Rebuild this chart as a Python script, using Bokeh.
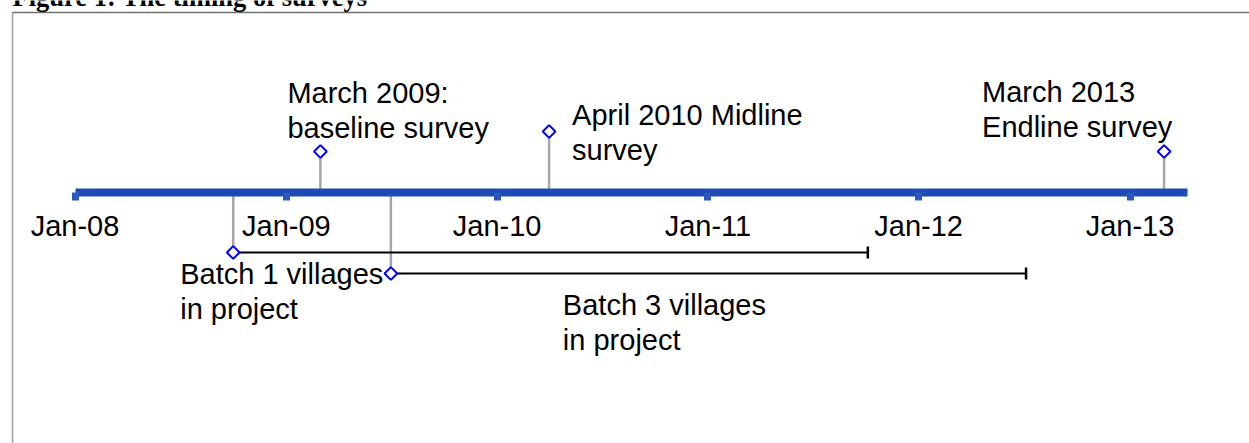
import numpy as np
import pandas as pd
from bokeh.plotting import figure
from bokeh.models import Range1d, LinearAxis, FixedTicker, ColumnDataSource
from bokeh.core.properties import value
from bokeh.embed import file_html
from bokeh.resources import INLINE

# ---------------- data ----------------
title_text = "Figure 1: The timing of surveys"
survey_labels = ["March 2009:\nbaseline survey", "April 2010 Midline\nsurvey", "March 2013\nEndline survey"]
survey_dates = ["2009-03-01", "2010-04-01", "2013-03-01"]
batch_labels = ["Batch 1 villages\nin project", "Batch 3 villages\nin project"]
batch_starts = ["2008-10-01", "2009-07-01"]
batch_ends = ["2011-10-05", "2012-07-05"]
tick_dates = ["2008-01-01", "2009-01-01", "2010-01-01", "2011-01-01", "2012-01-01", "2013-01-01"]
tick_labels = ["Jan-08", "Jan-09", "Jan-10", "Jan-11", "Jan-12", "Jan-13"]
timeline_start = "2008-01-01"
timeline_end = "2013-04-10"

# ---------------- layout / style ----------------
W, H = 1249, 443
DAY = 86400000.0
def ms(d):
    return pd.Timestamp(d).value / 1e6

PX_JAN08 = 74.5
PPD = 1055.0 / 1827.0          # pixels per day
x_start = ms("2008-01-01") - PX_JAN08 / PPD * DAY
x_end = x_start + W / PPD * DAY
def px2x(px):
    return x_start + px / PPD * DAY

AXIS_Y = 192
survey_levels = [151, 131, 151]
survey_label_y = [76, 98, 75]
survey_label_dx = [-33, 23, -182]
batch_levels = [252, 273]
batch_label_y = [257, 288]
batch_label_dx = [-53, 172]

BLUE = "#1c4bb4"
GREY = "#a6a6a6"
FONT = "Liberation Sans"
FS = "29px"

p = figure(width=W, height=H, x_range=Range1d(x_start, x_end), y_range=Range1d(H, 0),
           x_axis_type=None, y_axis_type=None, output_backend="svg",
           toolbar_location=None, min_border=0, outline_line_color=None)
p.xgrid.visible = False
p.ygrid.visible = False

# box border (left + top)
p.segment(x0=[px2x(12)], y0=[12], x1=[px2x(12)], y1=[H + 20], line_color="#a0a0a0", line_width=1.5)
p.segment(x0=[px2x(12)], y0=[12], x1=[px2x(W + 20)], y1=[12], line_color="#707070", line_width=1.5)

# title (mostly cut off above, as in the source page)
p.text(x=[px2x(12)], y=[-4], text=[title_text], text_font=value("Liberation Serif"),
       text_font_style="bold", text_font_size="26.5px", text_baseline="alphabetic",
       text_align="left", text_color="black")

# surveys
sx = [ms(d) for d in survey_dates]
ssrc = ColumnDataSource(dict(x=sx, y=survey_levels, y0=[AXIS_Y] * len(sx), ly=survey_label_y,
                             dx=survey_label_dx, text=survey_labels))
p.segment(x0="x", y0="y0", x1="x", y1="y", source=ssrc, line_color=GREY, line_width=2.5)

# batches
bx0 = [ms(d) for d in batch_starts]
bx1 = [ms(d) for d in batch_ends]
bsrc = ColumnDataSource(dict(x0=bx0, x1=bx1, y=batch_levels, y0=[AXIS_Y] * len(bx0), ly=batch_label_y,
                             dx=batch_label_dx, text=batch_labels))
p.segment(x0="x0", y0="y0", x1="x0", y1="y", source=bsrc, line_color=GREY, line_width=2.5)
p.segment(x0="x0", y0="y", x1="x1", y1="y", source=bsrc, line_color="black", line_width=2.2)
p.scatter(x="x1", y="y", source=bsrc, marker="dash", angle=np.pi / 2, size=12,
          line_color="black", line_width=2.5)

# diamonds
p.scatter(x="x", y="y", source=ssrc, marker="square", angle=np.pi / 4, size=9,
          line_color="#0000ff", line_width=2, fill_color="white")
p.scatter(x="x0", y="y", source=bsrc, marker="square", angle=np.pi / 4, size=9,
          line_color="#0000ff", line_width=2, fill_color="white")

# labels
for src in (ssrc, bsrc):
    xf = "x" if src is ssrc else "x0"
    p.text(x=xf, y="ly", text="text", x_offset="dx", source=src, text_font=value(FONT),
           text_font_size=value(FS), text_baseline="top", text_align="left",
           text_line_height=1.1, text_color="black")

# timeline axis
tick_ms = [ms(d) for d in tick_dates]
ax = LinearAxis(ticker=FixedTicker(ticks=tick_ms),
                major_label_overrides=dict(zip(tick_ms, tick_labels)),
                fixed_location=AXIS_Y, bounds=(ms(timeline_start), ms(timeline_end)))
ax.axis_line_color = BLUE
ax.axis_line_width = 8
ax.axis_line_cap = "butt"
ax.major_tick_line_color = "#2a58c0"
ax.major_tick_line_width = 7
ax.major_tick_line_cap = "butt"
ax.major_tick_out = 8
ax.major_tick_in = 0
ax.minor_tick_line_color = None
ax.major_label_text_font = FONT
ax.major_label_text_font_size = FS
ax.major_label_text_color = "black"
ax.major_label_standoff = 9
p.add_layout(ax, "below")

open("out.html", "w").write(file_html(p, INLINE))
